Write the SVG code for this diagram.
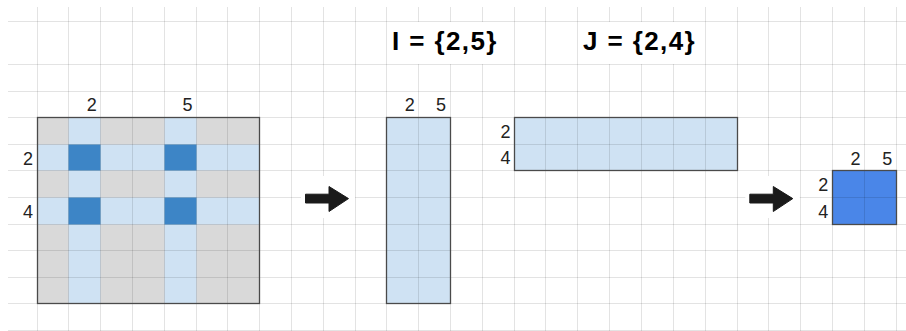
<svg xmlns="http://www.w3.org/2000/svg" width="906" height="331" viewBox="0 0 906 331">
  <defs>
    <style>
      .grid line { stroke: #000; stroke-opacity: 0.11; stroke-width: 1; }
      .lbl { font-family: "Liberation Sans", Arial, sans-serif; font-size: 18px; fill: #222; text-anchor: end; }
      .title { font-family: "Liberation Sans", Arial, sans-serif; font-size: 26px; font-weight: bold; fill: #000; letter-spacing: 1.4px; }
      .gray { fill: #d9d9d9; }
      .lb { fill: #cfe2f3; }
      .db { fill: #3d85c6; }
      .rb { fill: #4a86e8; }
      .border { fill: none; stroke: #4a4a4a; stroke-width: 1.3; }
      .arrow { fill: #1a1a1a; stroke: #1a1a1a; stroke-width: 1; stroke-linejoin: round; }
    </style>
  </defs>
  <rect x="0" y="0" width="906" height="331" fill="#fff"/>

  <!-- fills (drawn under grid) -->
  <g id="matrix-fill">
    <rect class="gray" x="37.5" y="117.5" width="222" height="186"/>
    <rect class="lb" x="68.5" y="117.5" width="32" height="186"/>
    <rect class="lb" x="164.5" y="117.5" width="32" height="186"/>
    <rect class="lb" x="37.5" y="144.5" width="222" height="26"/>
    <rect class="lb" x="37.5" y="197.5" width="222" height="27"/>
    <rect class="db" x="68.5" y="144.5" width="32" height="26"/>
    <rect class="db" x="164.5" y="144.5" width="32" height="26"/>
    <rect class="db" x="68.5" y="197.5" width="32" height="27"/>
    <rect class="db" x="164.5" y="197.5" width="32" height="27"/>
  </g>
  <g id="colvec-fill"><rect class="lb" x="386.5" y="117.5" width="64" height="186"/></g>
  <g id="rowvec-fill"><rect class="lb" x="514.5" y="117.5" width="223" height="53"/></g>
  <g id="result-fill"><rect class="rb" x="832.5" y="170.5" width="64" height="54"/></g>

  <!-- spreadsheet grid -->
  <g class="grid">
    <line x1="8" y1="21.5" x2="906" y2="21.5"/>
    <line x1="8" y1="64.5" x2="906" y2="64.5"/>
    <line x1="8" y1="91.5" x2="906" y2="91.5"/>
    <line x1="8" y1="117.5" x2="906" y2="117.5"/>
    <line x1="8" y1="144.5" x2="906" y2="144.5"/>
    <line x1="8" y1="170.5" x2="906" y2="170.5"/>
    <line x1="8" y1="197.5" x2="906" y2="197.5"/>
    <line x1="8" y1="224.5" x2="906" y2="224.5"/>
    <line x1="8" y1="250.5" x2="906" y2="250.5"/>
    <line x1="8" y1="277.5" x2="906" y2="277.5"/>
    <line x1="8" y1="303.5" x2="906" y2="303.5"/>
    <line x1="8" y1="330.5" x2="906" y2="330.5"/>
    <line x1="37.5" y1="7" x2="37.5" y2="331"/>
    <line x1="68.5" y1="7" x2="68.5" y2="331"/>
    <line x1="100.5" y1="7" x2="100.5" y2="331"/>
    <line x1="132.5" y1="7" x2="132.5" y2="331"/>
    <line x1="164.5" y1="7" x2="164.5" y2="331"/>
    <line x1="196.5" y1="7" x2="196.5" y2="331"/>
    <line x1="227.5" y1="7" x2="227.5" y2="331"/>
    <line x1="259.5" y1="7" x2="259.5" y2="331"/>
    <line x1="291.5" y1="7" x2="291.5" y2="331"/>
    <line x1="323.5" y1="7" x2="323.5" y2="331"/>
    <line x1="355.5" y1="7" x2="355.5" y2="331"/>
    <line x1="386.5" y1="7" x2="386.5" y2="331"/>
    <line x1="418.5" y1="7" x2="418.5" y2="331"/>
    <line x1="450.5" y1="7" x2="450.5" y2="331"/>
    <line x1="482.5" y1="7" x2="482.5" y2="331"/>
    <line x1="514.5" y1="7" x2="514.5" y2="331"/>
    <line x1="545.5" y1="7" x2="545.5" y2="331"/>
    <line x1="577.5" y1="7" x2="577.5" y2="331"/>
    <line x1="609.5" y1="7" x2="609.5" y2="331"/>
    <line x1="641.5" y1="7" x2="641.5" y2="331"/>
    <line x1="673.5" y1="7" x2="673.5" y2="331"/>
    <line x1="705.5" y1="7" x2="705.5" y2="331"/>
    <line x1="737.5" y1="7" x2="737.5" y2="331"/>
    <line x1="768.5" y1="7" x2="768.5" y2="331"/>
    <line x1="800.5" y1="7" x2="800.5" y2="331"/>
    <line x1="832.5" y1="7" x2="832.5" y2="331"/>
    <line x1="864.5" y1="7" x2="864.5" y2="331"/>
    <line x1="896.5" y1="7" x2="896.5" y2="331"/>
  </g>

  <!-- titles (merged cells) -->
  <g id="title-I">
    <rect x="387" y="22" width="127" height="42" fill="#fff"/>
    <text class="title" x="392" y="50">I = {2,5}</text>
  </g>
  <g id="title-J">
    <rect x="578" y="22" width="127" height="42" fill="#fff"/>
    <text class="title" x="583" y="50">J = {2,4}</text>
  </g>

  <!-- nodes: borders and labels -->
  <g id="matrix">
    <rect class="border" x="37.5" y="117.5" width="222" height="186"/>
    <text class="lbl" x="96.7" y="111">2</text>
    <text class="lbl" x="192.4" y="111">5</text>
    <text class="lbl" x="33" y="165">2</text>
    <text class="lbl" x="33" y="218">4</text>
  </g>
  <g id="col-vector">
    <rect class="border" x="386.5" y="117.5" width="64" height="186"/>
    <text class="lbl" x="414.7" y="111">2</text>
    <text class="lbl" x="446" y="111">5</text>
  </g>
  <g id="row-vector">
    <rect class="border" x="514.5" y="117.5" width="223" height="53"/>
    <text class="lbl" x="510.5" y="138.3">2</text>
    <text class="lbl" x="510.5" y="164.3">4</text>
  </g>
  <g id="result">
    <rect class="border" x="832.5" y="170.5" width="64" height="54"/>
    <text class="lbl" x="860.5" y="164.5">2</text>
    <text class="lbl" x="892.3" y="164.5">5</text>
    <text class="lbl" x="828.3" y="191.3">2</text>
    <text class="lbl" x="828.3" y="218">4</text>
  </g>

  <!-- connectors: block arrows -->
  <g id="connectors">
    <rect x="301" y="176" width="54" height="42" fill="#fff"/>
    <polygon class="arrow" points="305.5,194.2 329,194.2 329,186.5 348.5,198.6 329,211.5 329,203 305.5,203"/>
    <rect x="745.3" y="176" width="54.5" height="42" fill="#fff"/>
    <polygon class="arrow" points="749.8,194.2 773.3,194.2 773.3,186.5 792.8,198.6 773.3,211.5 773.3,203 749.8,203"/>
  </g>
</svg>
